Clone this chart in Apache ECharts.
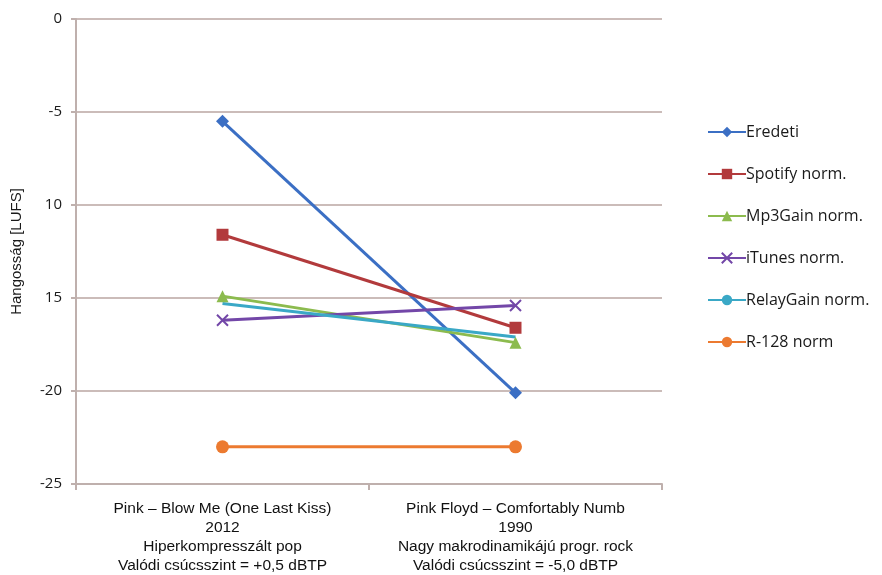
<!DOCTYPE html>
<html>
<head>
<meta charset="utf-8">
<script src="https://cdn.jsdelivr.net/npm/echarts@6/dist/echarts.min.js"></script>
<style>
  html, body { margin: 0; padding: 0; background: #ffffff; }
  #chart { width: 882px; height: 575px; }
</style>
</head>
<body>
<div id="chart"></div>
<script>
// Track titles shown under the category axis
const categories = [
  'Pink – Blow Me (One Last Kiss)\n2012\nHiperkompresszált pop\nValódi csúcsszint = +0,5 dBTP',
  'Pink Floyd – Comfortably Numb\n1990\nNagy makrodinamikájú progr. rock\nValódi csúcsszint = -5,0 dBTP'
];

// Loudness values [LUFS] per normalisation method
const eredeti   = [-5.5, -20.1];
const spotify   = [-11.6, -16.6];
const mp3gain   = [-14.9, -17.4];
const itunes    = [-16.2, -15.4];
const relaygain = [-15.3, -17.1];
const r128      = [-23.0, -23.0];

// Value axis tick labels, from 0 down to -25
const tickValues = [0, -5, -10, -15, -20, -25];
const tickLabels = ['0', '-5', '10', '15', '-20', '-25'];

const chart = echarts.init(document.getElementById('chart'));

function line(name, data, color, symbol, size) {
  return {
    name: name,
    type: 'line',
    data: data,
    symbol: symbol,
    symbolSize: size,
    showSymbol: true,
    lineStyle: { color: color, width: 3 },
    itemStyle: { color: color },
    emphasis: { disabled: true },
    z: 3
  };
}

const crossPath = 'path://M0,0 L10,10 M10,0 L0,10';

chart.setOption({
  animation: false,
  textStyle: { fontFamily: '"Open Sans", Lato, sans-serif' },
  grid: { left: 76, right: 220, top: 19, bottom: 91, containLabel: false },
  legend: {
    orient: 'vertical',
    left: 702,
    top: 119,
    itemGap: 26,
    itemWidth: 38,
    itemHeight: 13,
    textStyle: { fontSize: 16, color: '#1a1a1a', fontFamily: '"Open Sans", Lato, sans-serif', padding: [0, 0, 0, -5] },
    data: ['Eredeti', 'Spotify norm.', 'Mp3Gain norm.', 'iTunes norm.', 'RelayGain norm.', 'R-128 norm']
  },
  xAxis: {
    type: 'category',
    data: categories,
    boundaryGap: true,
    axisLine: { onZero: false, lineStyle: { color: '#bfb0ad', width: 2 } },
    axisTick: { show: true, length: 6, lineStyle: { color: '#bfb0ad', width: 2 } },
    axisLabel: {
      interval: 0,
      color: '#111',
      fontSize: 15.5,
      lineHeight: 19,
      margin: 15,
      fontFamily: '"Liberation Sans", Arial, sans-serif'
    }
  },
  yAxis: {
    type: 'value',
    min: -25,
    max: 0,
    interval: 5,
    name: 'Hangosság [LUFS]',
    nameLocation: 'middle',
    nameGap: 52,
    nameTextStyle: { fontSize: 15, color: '#1a1a1a', fontFamily: '"Liberation Sans", Arial, sans-serif' },
    axisLine: { show: true, onZero: false, lineStyle: { color: '#bfb0ad', width: 2 } },
    axisTick: { show: true, length: 5, lineStyle: { color: '#bfb0ad', width: 2 } },
    splitLine: { lineStyle: { color: '#cbbcb9', width: 2 } },
    axisLabel: {
      color: '#1a1a1a',
      fontSize: 15,
      margin: 14,
      fontFamily: '"Open Sans", Lato, sans-serif',
      formatter: function (v) {
        const i = tickValues.indexOf(v);
        return i >= 0 ? tickLabels[i] : String(v);
      }
    }
  },
  series: [
    line('Eredeti', eredeti, '#3b6fc4', 'diamond', 13),
    line('Spotify norm.', spotify, '#b23a3c', 'rect', 12),
    line('Mp3Gain norm.', mp3gain, '#8cbb4e', 'triangle', 12),
    Object.assign(line('iTunes norm.', itunes, '#7347a8', crossPath, 11), {
      itemStyle: { color: 'none', borderColor: '#7347a8', borderWidth: 2 }
    }),
    line('RelayGain norm.', relaygain, '#3aa8c6', 'none', 0),
    line('R-128 norm', r128, '#ec7a30', 'circle', 13)
  ]
});
</script>
</body>
</html>
